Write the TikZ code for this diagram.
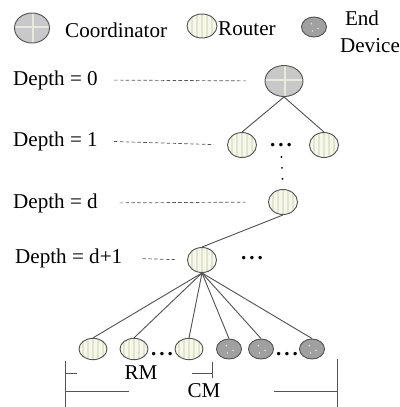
\documentclass[tikz,border=0pt]{standalone}
\usepackage{fontspec}
\setmainfont{Liberation Serif}
\usetikzlibrary{shapes.geometric,calc}

\definecolor{coordfill}{RGB}{200,200,200}
\definecolor{coordcross}{RGB}{232,233,220}
\definecolor{routfill}{RGB}{247,248,237}
\definecolor{routstripe}{RGB}{226,229,204}
\definecolor{endfill}{RGB}{160,160,160}
\definecolor{edgegray}{RGB}{85,85,85}

\tikzset{
  tnode/.style={ellipse,draw=edgegray,line width=0.8pt,inner sep=0pt},
  coordnode/.style={tnode,fill=coordfill,minimum width=1.14cm,minimum height=0.93cm,
    path picture={
      \draw[coordcross,line width=1.8pt] ([xshift=0.04cm]path picture bounding box.south) -- ([xshift=0.04cm]path picture bounding box.north);
      \draw[coordcross,line width=1.8pt] ([yshift=0.02cm]path picture bounding box.west) -- ([yshift=0.02cm]path picture bounding box.east);
    }},
  routnode/.style={tnode,fill=routfill,minimum width=0.87cm,minimum height=0.75cm,
    path picture={
      \foreach \s in {-2,...,2}
        \draw[routstripe,line width=1.2pt] ([xshift=\s*0.15cm]path picture bounding box.south) -- ([xshift=\s*0.15cm]path picture bounding box.north);
    }},
  endnode/.style={tnode,fill=endfill,minimum width=0.75cm,minimum height=0.6cm,
    path picture={
      \fill[white!85!gray] ([shift={(-0.08cm,0.1cm)}]path picture bounding box.center) circle (0.7pt);
      \fill[white!85!gray] ([shift={(0.12cm,-0.04cm)}]path picture bounding box.center) circle (0.7pt);
      \fill[white!85!gray] ([shift={(-0.04cm,-0.12cm)}]path picture bounding box.center) circle (0.7pt);
    }},
  lbl/.style={inner sep=0pt,font=\fontsize{18}{20}\selectfont},
  depthline/.style={densely dashed,edgegray,line width=0.6pt},
  link/.style={edgegray,line width=0.8pt},
  hdots/.style={inner sep=0pt,font=\fontsize{18}{20}\selectfont\bfseries},
  vdots/.style={line width=1.8pt,line cap=round,dash pattern=on 0pt off 0.33cm},
  bar/.style={edgegray,line width=0.8pt}
}

\begin{document}
\begin{tikzpicture}[x=0.03cm,y=-0.03cm]
\useasboundingbox (0,0) rectangle (400,407);

% legend
\node[coordnode,minimum width=1.05cm,minimum height=0.9cm] (lgcoord) at (32,28) {};
\node[lbl,anchor=west] (lgcoordtxt) at (65,30) {Coordinator};
\node[routnode,minimum width=0.9cm,minimum height=0.72cm] (lgrout) at (202,26) {};
\node[lbl,anchor=west] (lgrouttxt) at (218,29) {Router};
\node[endnode] (lgend) at (314,27) {};
\node[lbl] (lgendtxt) at (362,18) {End};
\node[lbl] (lgdevtxt) at (370,46) {Device};

% depth labels
\node[lbl,anchor=west] (dep0) at (13,80) {Depth = 0};
\node[lbl,anchor=west] (dep1) at (13,141) {Depth = 1};
\node[lbl,anchor=west] (depd) at (13,203) {Depth = d};
\node[lbl,anchor=west] (depd1) at (15,258) {Depth = d+1};

% tree
\node[coordnode] (root) at (284,81) {};
\node[routnode] (r1a) at (242,145) {};
\node[routnode] (r1b) at (324,145) {};
\node[hdots] (dots1) at (281,145) {.\hspace{2.5pt}.\hspace{2.5pt}.};
\node[routnode] (rd) at (283,202) {};
\node[routnode] (rd1) at (202,260) {};
\node[hdots] (dots2) at (252,258) {.\hspace{2.5pt}.\hspace{2.5pt}.};

% leaves
\node[routnode,minimum width=0.84cm,minimum height=0.64cm] (b1) at (93,349) {};
\node[routnode,minimum width=0.84cm,minimum height=0.64cm] (b2) at (134,349) {};
\node[hdots] (dots3) at (162,354) {.\hspace{2.5pt}.\hspace{2.5pt}.};
\node[routnode,minimum width=0.84cm,minimum height=0.64cm] (b3) at (189,349) {};
\node[endnode] (e1) at (229,349) {};
\node[endnode] (e2) at (261,349) {};
\node[hdots] (dots4) at (287,354) {.\hspace{2.5pt}.\hspace{2.5pt}.};
\node[endnode] (e3) at (312,349) {};

% depth guides
\draw[depthline,shorten <=0.48cm,shorten >=0.5cm] (dep0.east) -- (root.west);
\draw[depthline,shorten <=0.48cm,shorten >=0.4cm] (dep1.east) -- (r1a.west);
\draw[depthline,shorten <=0.65cm,shorten >=0.6cm] (depd.east) -- (rd.west);
\draw[depthline,shorten <=0.6cm,shorten >=0.36cm] (depd1.east) -- (rd1.west);

% links
\draw[link] (root.south) -- (r1a.north);
\draw[link] (root.south) -- (r1b.north);
\draw[vdots,shorten <=0.3cm] (dots1.south) -- (rd.north);
\draw[link] (rd.south) -- (rd1.north);
\foreach \leaf in {b1,b2,b3,e1,e2,e3}
  \draw[link] (rd1.south) -- (\leaf.north);

% RM / CM markers
\node[lbl] (rm) at (141,373) {RM};
\node[lbl] (cm) at (204,391) {CM};
\draw[bar] (65,361) -- (65,407);
\draw[bar] (337,359) -- (337,407);
\draw[bar] (65,373) -- (77,373);
\draw[bar] (192,373) -- (212,373);
\draw[bar] (212,362) -- (212,378);
\draw[bar] (65,391) -- (129,391);
\draw[bar] (274,391) -- (337,391);
\end{tikzpicture}
\end{document}
